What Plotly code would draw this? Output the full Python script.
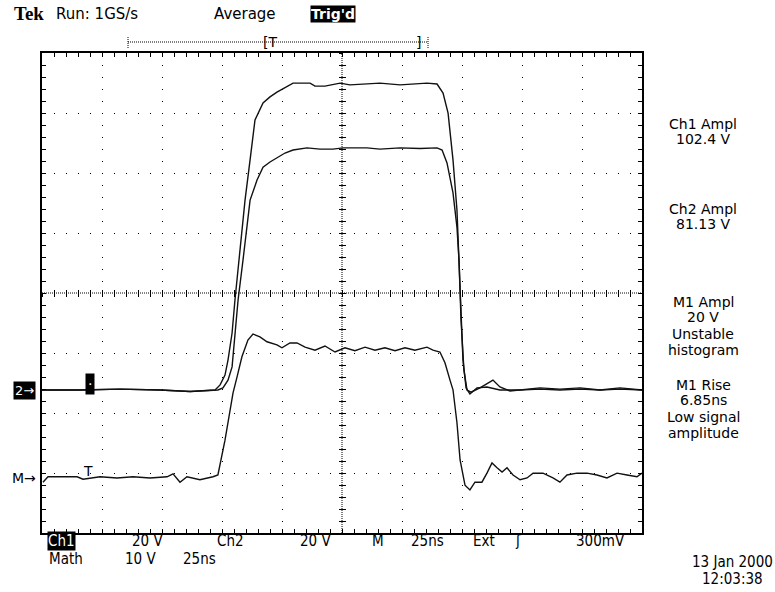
import plotly.graph_objects as go

# ---------------- data (read from the screen) ----------------
# time in ns from the left edge of the graticule (10 div x 25 ns)
ch1_t = [0, 15.8, 32.5, 49.2, 61.7, 72.1, 74.2, 76.25, 77.5, 79.2,
         80.4, 82.5, 84.6, 86.7, 88.75, 92.1, 95, 97.9, 101.25, 104.6,
         111.7, 113.75, 117.9, 124.2, 128.3, 134.6, 140.8, 149.2, 155.4, 160.4,
         164.6, 167.1, 169.2, 171.25, 172.9, 173.75, 174.6, 175.4, 176.7, 178.3,
         181.25, 185.4, 190.8, 199.2, 207.5, 215.8, 224.2, 232.5, 240.8, 250]
ch1_v = [0, 0, 0.3, 0, -0.5, 0, 1.7, 5, 10, 19,
         30, 46.7, 63.3, 76.7, 90, 95.7, 97.7, 99.3, 100.7, 102.3,
         102.3, 101.3, 101.3, 102.3, 101.7, 102, 102.3, 101.7, 102, 102.3,
         102, 99, 92.3, 76.7, 60, 43.3, 30, 10, 0.7, -1.3,
         0.7, 1, 0, 0, 0.3, 0, 0.3, 0, 0.3, 0]

ch2_t = [0, 15.8, 32.5, 49.2, 61.7, 73.3, 75.4, 77.5, 79.2, 80.4,
         81.7, 83.75, 86.7, 89.6, 92.1, 95, 97.9, 101.25, 104.6, 110.4,
         115.8, 121.25, 125.4, 130.4, 135.4, 140.8, 149.2, 157.5, 164.6, 166.7,
         168.75, 171.25, 172.9, 173.75, 174.6, 175.8, 177.1, 178.75, 182.5, 187.9,
         190.8, 195, 201.25, 207.5, 215.8, 224.2, 232.5, 240.8, 250]
ch2_v = [0, 0, 0.3, 0, -0.5, 0, 0.7, 3.3, 7.7, 19,
         30, 43.3, 63.3, 70, 74.3, 76, 77.3, 79, 80, 80.7,
         80.3, 80.3, 80.7, 80.7, 80.7, 80.3, 80.7, 80.5, 80.7, 80,
         75.7, 65.7, 54.3, 43.3, 23.3, 6.7, 0, -0.7, 0.7, 3.3,
         1, -0.3, 0.3, 0.7, 0.3, 0.7, 0, 0.7, 0]

math_t = [0.4, 2.5, 10.4, 14.6, 17.1, 24.2, 31.25, 37.9, 45, 52.1,
          54.6, 57.5, 60.4, 65.8, 71.25, 73.3, 76.25, 79.6, 81.25, 83.3,
          85.8, 87.9, 90.8, 93.75, 97.9, 100, 103.3, 106.25, 109.6, 113.75,
          117.9, 122.1, 126.25, 130.4, 134.6, 138.75, 142.9, 147.1, 151.25, 155.4,
          160.4, 162.9, 165.8, 167.9, 170, 171.25, 172.9, 174.2, 176.25, 178.3,
          180.4, 183.3, 185.4, 187.5, 189.6, 191.7, 193.75, 196.25, 199.2, 202.1,
          204.6, 208.75, 212.9, 215.8, 218.75, 222.9, 227.1, 231.25, 235.4, 239.6,
          243.75, 247.9, 250]
math_v = [-0.7, 0.2, 0.2, 0.2, -0.2, 0.2, 0, 0.2, 0, 0.2,
          0.7, -0.7, 0.2, -0.3, 0.2, 0.5, 6.3, 14.2, 16.8, 20.2,
          23, 24, 23.5, 22.7, 22.2, 21.7, 22.5, 22.5, 21.8, 21.3,
          22, 21, 21.7, 21.2, 21.8, 21.3, 21.7, 21.2, 21.7, 21.3,
          21.8, 21.3, 21, 19.2, 16.3, 14.7, 9.2, 3, -1.2, -2,
          -0.7, -0.7, 0.8, 2.5, 1.7, 1, 1.7, 0.5, -0.3, 0,
          0.8, 0.8, 0, -0.7, 0.5, 0.8, 0.8, 0.5, 0, 0.8,
          0.5, 0.2, 0.8]

CH_VDIV = 20.0      # V/div for Ch1 and Ch2
MATH_VDIV = 10.0    # V/div for Math
CH_OFFSET = -1.617  # ground level in divisions
MATH_OFFSET = -3.083

TOP_LABELS = ["Run: 1GS/s", "Average"]
RIGHT_LINES = [("Ch1 Ampl", 124), ("102.4 V", 139),
               ("Ch2 Ampl", 209), ("81.13 V", 224),
               ("M1 Ampl", 302), ("20 V", 317), ("Unstable", 334), ("histogram", 350),
               ("M1 Rise", 385), ("6.85ns", 400), ("Low signal", 417), ("amplitude", 433)]
BOTTOM_ROW1 = [("20 V", 147), ("Ch2", 230), ("20 V", 315), ("M", 378),
               ("25ns", 427), ("Ext", 484), ("300mV", 600)]
BOTTOM_ROW2 = [("10 V", 140), ("25ns", 200)]

# ---------------- layout geometry ----------------
FIG_W, FIG_H = 775, 592
L, T, W, H = 42, 53, 600, 480


def px(x, y):
    return (x - L) / W, (T + H - y) / H


fig = go.Figure()
line_style = dict(color="#111111", width=1.4)
for t, v, off, s in [(ch1_t, ch1_v, CH_OFFSET, CH_VDIV),
                     (ch2_t, ch2_v, CH_OFFSET, CH_VDIV),
                     (math_t, math_v, MATH_OFFSET, MATH_VDIV)]:
    fig.add_trace(go.Scatter(x=t, y=[off + val / s for val in v], mode="lines",
                             line=line_style, hoverinfo="skip", showlegend=False))

# dummy traces so the centre-cross tick axes are drawn
for ax in ("2", "3"):
    fig.add_trace(go.Scatter(x=[None], y=[None], xaxis="x" + ax, yaxis="y" + ax,
                             showlegend=False, hoverinfo="skip"))

frame_axis = dict(showgrid=True, gridcolor="#000000", gridwidth=1, griddash="1px,11px",
                  ticks="inside", ticklen=4, tickwidth=1, tickcolor="#000000",
                  showticklabels=False, showline=True, linewidth=2, linecolor="#000000",
                  mirror="allticks", zeroline=False, fixedrange=True)

center_axis = dict(showgrid=False, showline=False, zeroline=False, showticklabels=False,
                   ticklen=3, tickwidth=1, tickcolor="#000000", anchor="free", position=0.5,
                   fixedrange=True)

fig.update_layout(
    width=FIG_W, height=FIG_H,
    margin=dict(l=L, r=FIG_W - L - W, t=T, b=FIG_H - T - H),
    paper_bgcolor="white", plot_bgcolor="white",
    xaxis=dict(range=[0, 250], dtick=25, tick0=0,
               minor=dict(dtick=5, ticks="inside", ticklen=4, tickcolor="#000000", showgrid=False),
               **frame_axis),
    yaxis=dict(range=[-4, 4], dtick=1, tick0=0,
               minor=dict(dtick=0.2, ticks="inside", ticklen=4, tickcolor="#000000", showgrid=False),
               **frame_axis),
    xaxis2=dict(overlaying="x", range=[0, 250], dtick=5, tick0=0, ticks="outside", **center_axis),
    yaxis2=dict(overlaying="y", range=[-4, 4], dtick=0.2, tick0=0, ticks="outside", **center_axis),
    xaxis3=dict(overlaying="x", range=[0, 250], dtick=5, tick0=0, ticks="inside", **center_axis),
    yaxis3=dict(overlaying="y", range=[-4, 4], dtick=0.2, tick0=0, ticks="inside", **center_axis),
    showlegend=False,
)

# centre cross (dense dotted)
fig.add_shape(type="line", xref="x", yref="paper", x0=125, x1=125, y0=0, y1=1,
              line=dict(color="#000000", width=1, dash="1px,1px"))
fig.add_shape(type="line", xref="paper", yref="y", x0=0, x1=1, y0=0, y1=0,
              line=dict(color="#000000", width=1, dash="1px,1px"))

# record-length bar at the top
bx0, by = px(128, 42)
bx1, _ = px(428, 42)
fig.add_shape(type="line", xref="paper", yref="paper", x0=bx0, x1=bx1, y0=by, y1=by,
              line=dict(color="#000000", width=1, dash="1px,1px"))
for bx in (bx0, bx1):
    fig.add_shape(type="line", xref="paper", yref="paper", x0=bx, x1=bx,
                  y0=px(0, 48)[1], y1=px(0, 36)[1],
                  line=dict(color="#000000", width=1, dash="1px,1px"))

SANS = "DejaVu Sans"
NARROW = "Liberation Sans Narrow, DejaVu Sans Condensed, Arial Narrow, sans-serif"


def add_text(text, x, y, size=14, family=SANS, xanchor="center", color="#000000",
             bg=None, pad=1):
    ax, ay = px(x, y)
    fig.add_annotation(text=text, x=ax, y=ay, xref="paper", yref="paper",
                       xanchor=xanchor, yanchor="middle", showarrow=False,
                       font=dict(family=family, size=size, color=color),
                       bgcolor=bg, borderpad=pad)


# top status line
add_text("<b>Tek</b>", 12, 14, size=19, family="Liberation Serif", xanchor="left")
add_text(TOP_LABELS[0], 54, 14, size=15, xanchor="left")
add_text(TOP_LABELS[1], 212, 14, size=15, xanchor="left")
add_text("<b>Trig'd</b>", 310, 14, size=14, xanchor="left", color="white", bg="#000000", pad=0)
add_text("[T", 261, 42, size=14, xanchor="left")
add_text("]", 414, 42, size=14, xanchor="left")

# right-hand measurement readouts
for txt, yy in RIGHT_LINES:
    add_text(txt, 703, yy, size=14)

# bottom settings
add_text("Ch1", 47, 541, size=15, family=NARROW, xanchor="left", color="white", bg="#000000", pad=0)
for txt, xx in BOTTOM_ROW1:
    add_text(txt, xx, 541, size=15, family=NARROW)
add_text("ʃ", 518, 541, size=15, family=NARROW)
add_text("Math", 47, 559, size=15, family=NARROW, xanchor="left")
for txt, xx in BOTTOM_ROW2:
    add_text(txt, xx, 559, size=15, family=NARROW)
add_text("13 Jan 2000", 732, 562, size=15, family=NARROW)
add_text("12:03:38", 732, 579, size=15, family=NARROW)

# channel ground markers
add_text("2→", 24, 390, size=13, color="white", bg="#000000", pad=1)
add_text("M→", 24, 478, size=14)
add_text("·", 90, 384, size=14, color="white", bg="#000000", pad=2)
add_text("T", 88, 471, size=14)

fig.write_html("out.html", config={"displayModeBar": False},
               post_script="document.body.style.margin='0px';")
